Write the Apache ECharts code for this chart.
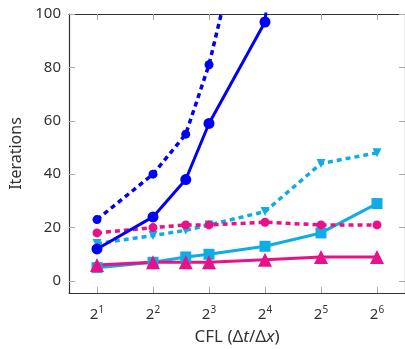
<!DOCTYPE html>
<html>
<head>
<meta charset="utf-8">
<script src="https://cdn.jsdelivr.net/npm/echarts@6/dist/echarts.min.js"></script>
<style>
  html, body { margin: 0; padding: 0; background: #fff; }
  #chart { width: 405px; height: 349px; }
</style>
</head>
<body>
<div id="chart"></div>
<script>
// CFL values (x), plotted on a log2 scale
let cfl = [2, 4, 6, 8, 16, 32, 64];
let xTicks = [1, 2, 3, 4, 5, 6];          // exponents of 2
let yTicks = [0, 20, 40, 60, 80, 100];

// iterations per series
let blueSolid   = [12, 24, 38, 59, 97, 320, null];
let blueDashed  = [23, 40, 55, 81, 168, null, null];
let cyanSolid   = [5, 7, 9, 10, 13, 18, 29];
let cyanDashed  = [14, 17, 19, 21, 26, 44, 48];
let magSolid    = [6, 7, 7, 7, 8, 9, 9];
let magDashed   = [18, 20, 21, 21, 22, 21, 21];

let BLUE = '#0000f5', CYAN = '#10ace6', MAG = '#e8118a';
let FONT = '"Noto Sans", "Open Sans", sans-serif';

let pairs = vals => cfl.map((c, i) => [Math.log2(c), vals[i]]).filter(p => p[1] != null);

let mk = (name, vals, color, dashed, symbol, size, rotate) => ({
    name: name,
    type: 'line',
    data: pairs(vals),
    xAxisIndex: 0,
    yAxisIndex: 0,
    clip: true,
    symbol: symbol,
    symbolSize: size,
    symbolRotate: rotate || 0,
    showAllSymbol: true,
    itemStyle: { color: color },
    lineStyle: { color: color, width: dashed ? 3.5 : 3, type: dashed ? [5, 4] : 'solid' },
    emphasis: { disabled: true },
    animation: false
});

let sharedX = {
    type: 'value',
    min: 0.5,
    max: 6.5,
    splitLine: { show: false },
    axisLine: { show: true, onZero: false, lineStyle: { color: '#333', width: 1.2 } },
    axisTick: { show: true, inside: true, length: 6, customValues: xTicks, lineStyle: { color: '#aaa' } }
};
let sharedY = {
    type: 'value',
    min: -4.5,
    max: 100,
    splitLine: { show: false },
    axisLine: { show: true, onZero: false, lineStyle: { color: '#333', width: 1.2 } },
    axisTick: { show: true, inside: true, length: 6, customValues: yTicks, lineStyle: { color: '#aaa' } }
};

let option = {
    backgroundColor: '#fff',
    animation: false,
    grid: { left: 69, right: 0, top: 14, bottom: 56, containLabel: false, outerBoundsMode: 'none' },
    xAxis: [
        {
            ...sharedX,
            position: 'bottom',
            name: 'CFL (Δ{i|t}/Δ{i|x})',
            nameLocation: 'middle',
            nameGap: 36,
            nameTextStyle: {
                fontFamily: FONT, fontSize: 17, color: '#333',
                rich: { i: { fontFamily: FONT, fontSize: 17, fontStyle: 'italic', color: '#333' } }
            },
            axisLabel: {
                customValues: xTicks,
                margin: 9,
                formatter: v => '{b|2}{s|' + v + '}',
                rich: {
                    b: { fontFamily: FONT, fontSize: 15, color: '#333', lineHeight: 20, verticalAlign: 'bottom' },
                    s: { fontFamily: FONT, fontSize: 10, color: '#333', lineHeight: 20, verticalAlign: 'bottom', padding: [0, 0, 7, 0] }
                }
            }
        },
        { ...sharedX, position: 'top', axisLabel: { show: false } }
    ],
    yAxis: [
        {
            ...sharedY,
            position: 'left',
            name: 'Iterations',
            nameLocation: 'middle',
            nameGap: 43,
            nameTextStyle: { fontFamily: FONT, fontSize: 16, color: '#333' },
            axisLabel: { customValues: yTicks, margin: 8, fontFamily: FONT, fontSize: 15, color: '#333' }
        },
        { ...sharedY, position: 'right', axisLabel: { show: false } }
    ],
    series: [
        mk('cyan dashed', cyanDashed, CYAN, true, 'triangle', 9, 180),
        mk('cyan solid', cyanSolid, CYAN, false, 'rect', 11),
        mk('magenta dashed', magDashed, MAG, true, 'circle', 9),
        mk('magenta solid', magSolid, MAG, false, 'triangle', 14),
        mk('blue dashed', blueDashed, BLUE, true, 'circle', 9),
        mk('blue solid', blueSolid, BLUE, false, 'circle', 11)
    ]
};

let myChart = echarts.init(document.getElementById('chart'), null, { renderer: 'canvas' });
myChart.setOption(option);
</script>
</body>
</html>
